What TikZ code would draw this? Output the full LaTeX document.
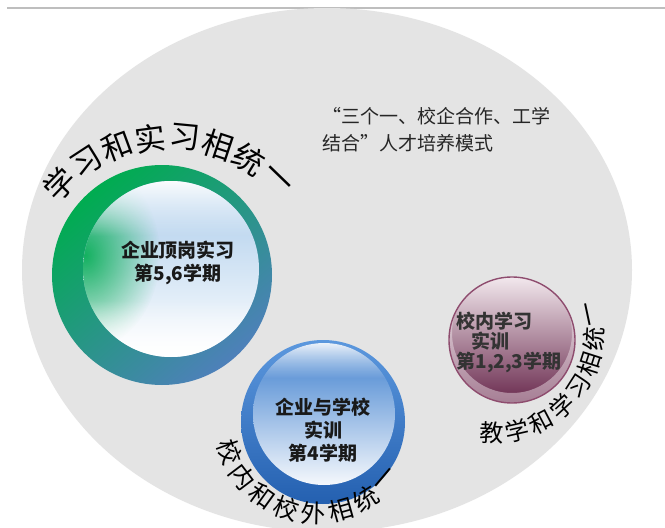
\documentclass[tikz,border=0pt]{standalone}
\usepackage{fontspec}
\newfontfamily\cjk{Noto Sans CJK SC}
\usetikzlibrary{fadings}
\definecolor{bgray}{RGB}{228,228,228}
\definecolor{lineg}{RGB}{190,190,190}
\definecolor{gA}{RGB}{0,172,80}
\definecolor{bA}{RGB}{78,128,186}
\definecolor{innerA}{RGB}{168,202,234}
\definecolor{bBtop}{RGB}{92,152,222}
\definecolor{bBbot}{RGB}{36,96,176}
\definecolor{inBtop}{RGB}{60,126,206}
\definecolor{inBmid}{RGB}{122,166,222}
\definecolor{inBbot}{RGB}{245,248,252}
\definecolor{pTop}{RGB}{242,232,237}
\definecolor{pMid}{RGB}{196,140,168}
\definecolor{pBot}{RGB}{104,40,76}
\definecolor{pRim}{RGB}{142,76,110}
\definecolor{txt}{RGB}{25,25,25}
\tikzfading[name=fadedown, top color=transparent!0, bottom color=transparent!100]
\tikzfading[name=fadeup, bottom color=transparent!0, top color=transparent!100]
\tikzfading[name=softglow, inner color=transparent!0, outer color=transparent!100]
\tikzset{
  arcch/.style={font=\cjk\fontsize{#1}{#1}\selectfont, inner sep=0pt, text=black},
  lbl/.style={font=\cjk\bfseries\fontsize{19}{23}\selectfont, align=center, text=txt, inner sep=0pt},
  titletext/.style={font=\cjk\fontsize{19}{27}\selectfont, align=left, text=black!85, inner sep=0pt, anchor=north west},
  topline/.style={draw=lineg, line width=1.5pt}
}
\begin{document}
\begin{tikzpicture}[x=1pt,y=-1pt]
\useasboundingbox (0,0) rectangle (665,528);
\fill[white] (0,0) rectangle (665,528);
\coordinate (l0) at (7,8);
\coordinate (l1) at (665,8);
\draw[topline] (l0) -- (l1);
% big background ellipse
\fill[bgray] (327,270) ellipse [x radius=305pt, y radius=262pt];

% title
\node[titletext] (title) at (322,107) {“三个一、校企合作、工学\\结合”人才培养模式};

% circle 1
\coordinate (c1) at (162,275);
\coordinate (c1i) at (171,269);
\shade[top color=gA, bottom color=bA, shading angle=40] (c1) circle[radius=110pt];
\shade[top color=innerA, bottom color=white] (c1i) circle[radius=88pt];
\begin{scope}
  \clip (c1i) circle[radius=88pt];
  \fill[gA, path fading=softglow, fill opacity=0.9] (85,255) ellipse[x radius=75pt, y radius=95pt];
  \fill[white, path fading=fadedown, fill opacity=0.95] (80,181) rectangle (262,236);
  \fill[white, path fading=fadeup, fill opacity=0.85] (80,300) rectangle (262,358);
\end{scope}
\node[lbl] (t1) at (178,263) {企业顶岗实习\\第5,6学期};

% circle 2
\coordinate (c2) at (323,422);
\coordinate (c2i) at (324,414);
\shade[top color=bBtop, bottom color=bBbot] (c2) circle[radius=82pt];
\shade[top color=inBtop, middle color=inBmid, bottom color=inBbot] (c2i) circle[radius=71pt];
\begin{scope}
  \clip (c2i) circle[radius=71pt];
  \fill[white, path fading=fadedown, fill opacity=0.9] (250,343) rectangle (400,378);
\end{scope}
\node[lbl] (t2) at (323,430) {企业与学校\\实训\\第4学期};

% circle 3
\coordinate (c3) at (512,340);
\shade[top color=pTop, middle color=pMid, bottom color=pBot] (c3) circle[radius=63pt];
\begin{scope}
  \clip (c3) circle[radius=63pt];
  \fill[pTop, fill opacity=0.45, even odd rule] (c3) circle[radius=63pt] (512,333) circle[radius=60pt];
\end{scope}
\draw[pRim, line width=1.4pt] (c3) circle[radius=63pt];
\node[lbl, align=left, font=\cjk\bfseries\fontsize{19}{20}\selectfont, text=black!80] (t3) at (509,342) {校内学习\\\hspace{15pt}实训\\第1,2,3学期};

% arc text 1
\foreach \ch [count=\i from 0] in {学,习,和,实,习,相,统,一}{
  \pgfmathsetmacro\a{136-\i*12.86}
  \node[arcch=31, rotate=\a-90] (a1-\i) at ({170+153*cos(\a)},{290-153*sin(\a)}) {\ch};
}
% arc text 2
\foreach \ch [count=\i from 0] in {校,内,和,校,外,相,统,一}{
  \pgfmathsetmacro\a{-160+\i*17.14}
  \node[arcch=25, rotate=\a+90] (a2-\i) at ({316+92*cos(\a)},{421-92*sin(\a)}) {\ch};
}
% arc text 3
\foreach \ch [count=\i from 0] in {教,学,和,学,习,相,统,一}{
  \pgfmathsetmacro\a{-92+\i*14.86}
  \node[arcch=24, rotate=\a+90] (a3-\i) at ({495+99*cos(\a)},{334-99*sin(\a)}) {\ch};
}
\end{tikzpicture}
\end{document}
